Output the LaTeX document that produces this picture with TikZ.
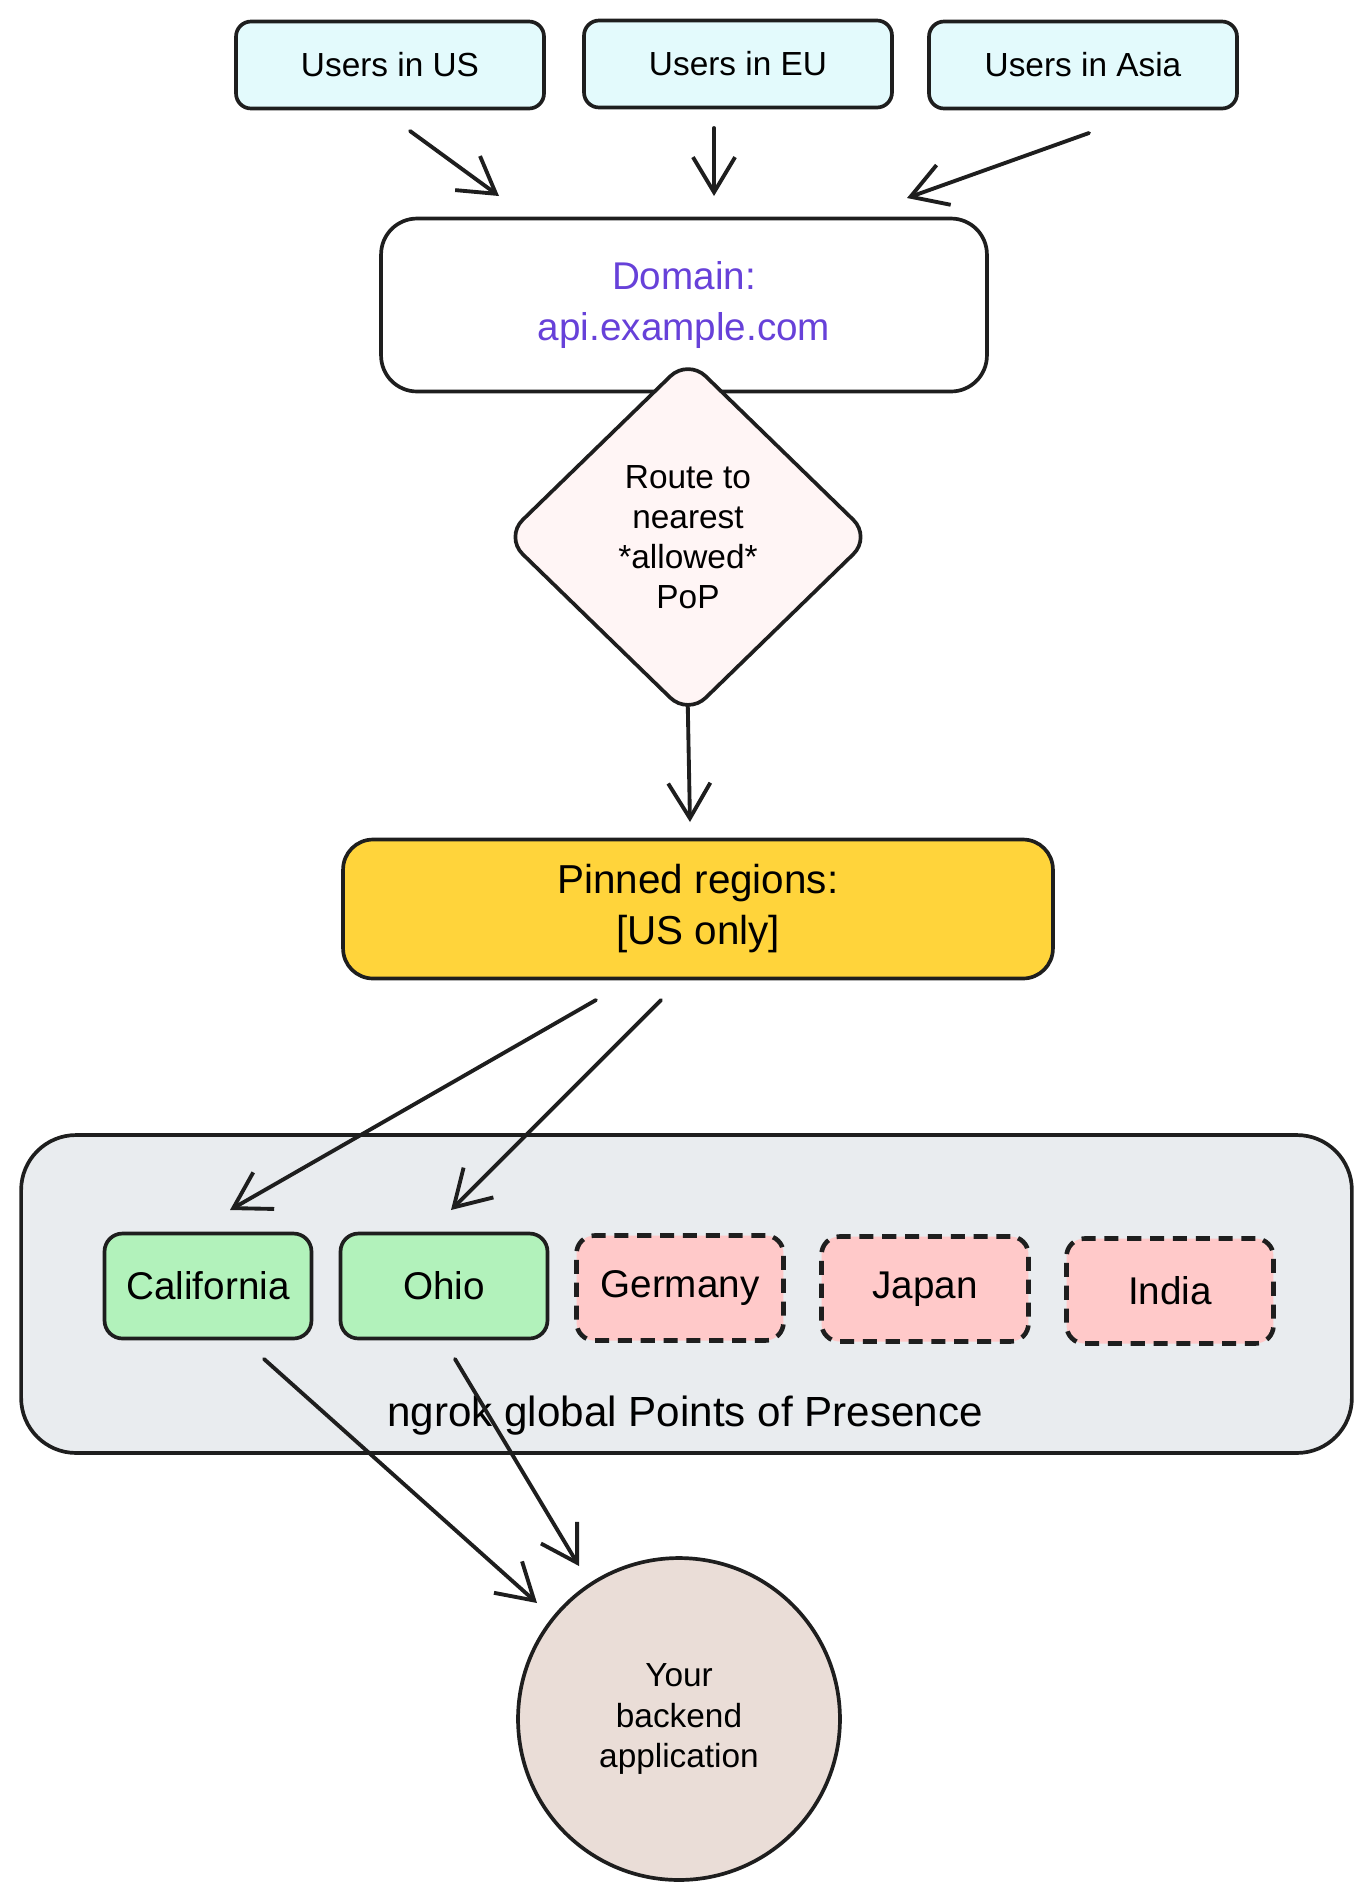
\documentclass[tikz,border=0pt]{standalone}
\usepackage{fontspec}
\setmainfont{Liberation Sans}
\usetikzlibrary{shapes.geometric,arrows.meta}
\definecolor{ink}{HTML}{1E1E1E}
\definecolor{userfill}{HTML}{E3FAFC}
\definecolor{routefill}{HTML}{FFF5F5}
\definecolor{pinfill}{HTML}{FFD43B}
\definecolor{popsfill}{HTML}{E9ECEF}
\definecolor{okfill}{HTML}{B2F2BB}
\definecolor{nofill}{HTML}{FFC9C9}
\definecolor{appfill}{HTML}{EADDD7}
\definecolor{domtext}{HTML}{6741D9}
\begin{document}
\begin{tikzpicture}[x=.02cm,y=-.02cm,line width=2.1pt,
  userbox/.style={draw=ink,fill=userfill,rounded corners=.3cm,minimum width=6.16cm,minimum height=1.74cm,font=\fontsize{19}{23}\selectfont},
  popbox/.style={draw=ink,rounded corners=.36cm,minimum width=4.14cm,minimum height=2.1cm,font=\fontsize{22}{26}\selectfont},
  okbox/.style={popbox,fill=okfill},
  nobox/.style={popbox,fill=nofill,line width=2.6pt,dash pattern=on 8pt off 5pt},
  link/.style={draw=ink,line width=2.2pt,line cap=round,line join=round,-{Straight Barb[length=20pt,width=24pt]}}]
\useasboundingbox (0,0) rectangle (1371,1901);
% users
\node[userbox] (us) at (390,65) {Users in US};
\node[userbox] (eu) at (738,64) {Users in EU};
\node[userbox] (asia) at (1083,65) {Users in Asia};
\coordinate (usout) at (410,131);\coordinate (usin) at (499,196);
\coordinate (euout) at (714,128);\coordinate (euin) at (714,196);
\coordinate (asiaout) at (1089,133);\coordinate (asiain) at (907,198);
\draw[link] (usout)--(usin);\draw[link] (euout)--(euin);\draw[link] (asiaout)--(asiain);
% domain and routing
\node[draw=ink,fill=white,rounded corners=.72cm,minimum width=12.12cm,minimum height=3.46cm,
  align=center,text=domtext,font=\fontsize{22}{29}\selectfont] (domain) at (684,305) {Domain:\\api.example.com};
\node[diamond,draw=ink,fill=routefill,rounded corners=14pt,minimum width=7.35cm,minimum height=7.15cm,
  inner sep=0pt,align=center,font=\fontsize{19}{22.8}\selectfont] (route) at (688,537) {Route to\\nearest\\*allowed*\\PoP};
\coordinate (pinin) at (690,822);
\draw[link,shorten <=-7pt] (route.south)--(pinin);
\node[draw=ink,fill=pinfill,rounded corners=.6cm,minimum width=14.2cm,minimum height=2.78cm,
  align=center,font=\fontsize{23}{29}\selectfont] (pin) at (698,909) {Pinned regions:\\{}[US only]};
% points of presence
\node[draw=ink,fill=popsfill,rounded corners=1.1cm,minimum width=26.62cm,minimum height=6.36cm] (pops) at (686.5,1294) {};
\node[font=\fontsize{24}{28}\selectfont] (popslabel) at (685,1416) {ngrok global Points of Presence};
\node[okbox] (cal) at (208,1286) {California};
\node[okbox] (ohio) at (444,1286) {Ohio};
\node[nobox] (ger) at (680,1288) {Germany};
\node[nobox] (jap) at (925,1289) {Japan};
\node[nobox] (ind) at (1170,1291) {India};
\coordinate (pinouta) at (596,1000);\coordinate (calin) at (230,1210);
\coordinate (pinoutb) at (661,1000);\coordinate (ohioin) at (451,1210);
\draw[link] (pinouta)--(calin);\draw[link] (pinoutb)--(ohioin);
% backend
\node[circle,draw=ink,fill=appfill,minimum size=6.44cm,align=center,font=\fontsize{19}{22.8}\selectfont] (app) at (679,1719) {Your\\backend\\application};
\coordinate (calout) at (264,1359);\coordinate (appina) at (537,1603);
\coordinate (ohioout) at (455,1359);\coordinate (appinb) at (579,1566);
\draw[link] (calout)--(appina);\draw[link] (ohioout)--(appinb);
\end{tikzpicture}
\end{document}
